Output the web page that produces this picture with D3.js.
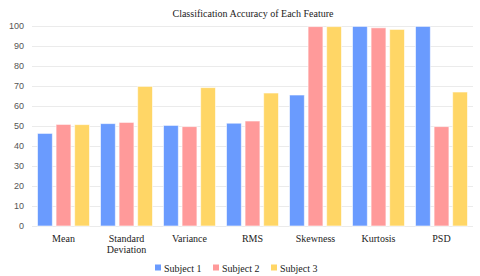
<!DOCTYPE html>
<html>
  <head>
    <meta charset="utf-8">
    <script src="https://cdn.jsdelivr.net/npm/d3@7"></script>
    <style>
      body { margin: 0px; background: #fff; }
      .axis .domain { display: none; }
      .y-axis .tick line { stroke: #ebebeb; }
      .y-axis .tick text { fill: #555; font-size: 9px; }
    </style>
  </head>
  <body>
    <svg width="480" height="276"></svg>
    <script>
      var features = ['Mean', 'Standard Deviation', 'Variance', 'RMS', 'Skewness', 'Kurtosis', 'PSD'];
      var subjects = ['Subject 1', 'Subject 2', 'Subject 3'];
      var subject1 = [46.3, 51.2, 50.3, 51.4, 65.5, 99.8, 99.8];
      var subject2 = [50.8, 51.8, 49.7, 52.5, 99.7, 99.1, 49.7];
      var subject3 = [50.7, 69.8, 69.2, 66.5, 99.7, 98.3, 67.0];
      var yTicks = [0, 10, 20, 30, 40, 50, 60, 70, 80, 90, 100];
      var colors = ['#6a9bfe', '#ff9a9a', '#ffd666'];

      var series = [subject1, subject2, subject3];
      var serif = "'Liberation Serif', 'Times New Roman', serif";

      var svg = d3.select('svg');
      var margin = { top: 26, right: 7, bottom: 50, left: 32 };
      var width = +svg.attr('width');
      var height = +svg.attr('height');
      var innerWidth = width - margin.left - margin.right;
      var innerHeight = height - margin.top - margin.bottom;

      var g = svg.append('g')
          .attr('transform', `translate(${margin.left},${margin.top})`);

      var xScale = d3.scaleBand()
        .domain(features)
        .range([0, innerWidth]);
      var x1 = d3.scaleBand()
        .domain(d3.range(subjects.length))
        .range([5.5, xScale.bandwidth() - 5.5])
        .paddingInner(0.2);
      var yScale = d3.scaleLinear()
        .domain([0, 100])
        .range([innerHeight, 0]);

      // gridlines + tick labels
      g.append('g')
          .attr('class', 'axis y-axis')
          .attr('font-family', "'Liberation Sans', Arial, sans-serif")
          .call(d3.axisLeft(yScale).tickValues(yTicks).tickSize(-innerWidth).tickPadding(8));

      // bars
      var groups = g.selectAll('.group').data(features)
        .enter().append('g')
          .attr('class', 'group')
          .attr('transform', d => `translate(${xScale(d)},0)`);
      groups.selectAll('rect')
        .data((d, i) => series.map((s, k) => ({ k: k, v: s[i] })))
        .enter().append('rect')
          .attr('x', d => x1(d.k))
          .attr('width', x1.bandwidth())
          .attr('y', d => yScale(d.v))
          .attr('height', d => innerHeight - yScale(d.v))
          .attr('fill', d => colors[d.k])
          .attr('stroke', 'rgba(255,255,255,0.6)')
          .attr('stroke-width', 1);

      // x labels
      var xl = g.selectAll('.x-label').data(features)
        .enter().append('text')
          .attr('class', 'x-label')
          .attr('font-family', serif)
          .attr('font-size', 10)
          .attr('fill', '#222')
          .attr('text-anchor', 'middle')
          .attr('x', d => xScale(d) + xScale.bandwidth() / 2)
          .attr('y', innerHeight + 16);
      xl.each(function (d) {
        var words = d.split(' ');
        var t = d3.select(this);
        words.forEach((w, i) => {
          t.append('tspan')
            .attr('x', xScale(d) + xScale.bandwidth() / 2)
            .attr('dy', i === 0 ? 0 : 11)
            .text(w);
        });
      });

      // title
      svg.append('text')
          .attr('font-family', serif)
          .attr('font-size', 10)
          .attr('fill', '#222')
          .attr('x', 253)
          .attr('y', 17)
          .attr('text-anchor', 'middle')
          .text('Classification Accuracy of Each Feature');

      // legend
      var legendX = [155, 213, 271];
      var legend = svg.append('g')
        .selectAll('g').data(subjects)
        .enter().append('g')
          .attr('transform', (d, i) => `translate(${legendX[i]},268)`);
      legend.append('rect')
          .attr('x', 0).attr('y', -3.5)
          .attr('width', 6).attr('height', 6)
          .attr('fill', (d, i) => colors[i]);
      legend.append('text')
          .attr('font-family', serif)
          .attr('font-size', 10)
          .attr('fill', '#222')
          .attr('x', 9)
          .attr('y', 3.5)
          .text(d => d);
    </script>
  </body>
</html>
